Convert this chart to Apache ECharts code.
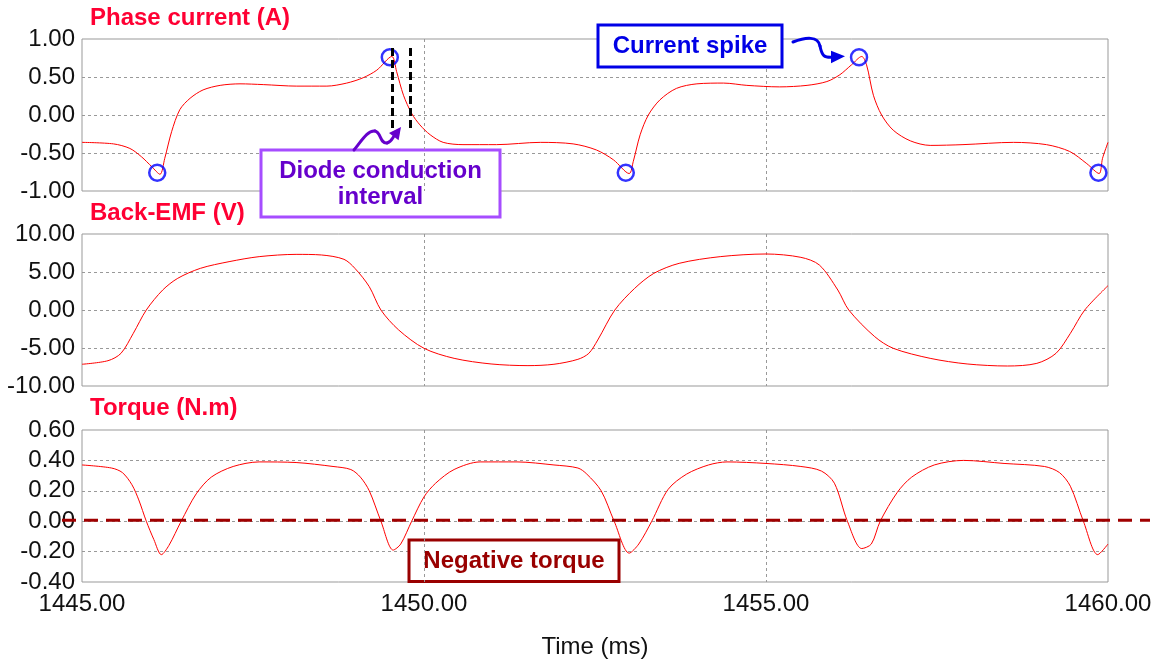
<!DOCTYPE html>
<html>
<head>
<meta charset="utf-8">
<script src="https://cdn.jsdelivr.net/npm/echarts@6/dist/echarts.min.js"></script>
<style>
  html, body { margin: 0; padding: 0; background: #ffffff; }
  #chart { width: 1160px; height: 664px; }
</style>
</head>
<body>
<div id="chart"></div>
<script>
// ---- time axis (ms) ----
const xMin = 1445, xMax = 1460, xStep = 5;

// ---- panel titles and y scales ----
const panelTitles = ['Phase current (A)', 'Back-EMF (V)', 'Torque (N.m)'];
const yMin = [-1, -10, -0.4];
const yMax = [1, 10, 0.6];
const yStep = [0.5, 5, 0.2];

// ---- phase current (A) ----
const timeCurrent = [1445.00, 1445.46, 1445.70, 1445.87, 1446.02, 1446.14, 1446.21, 1446.31, 1446.43, 1446.58,
  1446.77, 1447.02, 1447.31, 1447.65, 1448.14, 1448.58, 1448.87, 1449.11, 1449.31, 1449.53,
  1449.60, 1449.70, 1449.82, 1449.94, 1450.09, 1450.28, 1450.57, 1451.06, 1451.70, 1452.18,
  1452.52, 1452.77, 1453.00, 1453.06, 1453.16, 1453.28, 1453.45, 1453.69, 1453.99, 1454.38,
  1454.72, 1455.20, 1455.60, 1455.89, 1456.08, 1456.25, 1456.40, 1456.47, 1456.57, 1456.69,
  1456.86, 1457.11, 1457.40, 1457.88, 1458.62, 1459.10, 1459.44, 1459.69, 1459.87, 1459.92, 1460.00];
const phaseCurrent = [-0.36, -0.38, -0.44, -0.55, -0.68, -0.78, -0.57, -0.22, 0.07, 0.22,
  0.33, 0.39, 0.41, 0.40, 0.38, 0.38, 0.42, 0.49, 0.59, 0.77,
  0.57, 0.26, 0.02, -0.13, -0.26, -0.36, -0.39, -0.39, -0.36, -0.38,
  -0.46, -0.59, -0.77, -0.61, -0.26, 0.00, 0.20, 0.35, 0.41, 0.42,
  0.39, 0.37, 0.39, 0.44, 0.53, 0.66, 0.77, 0.66, 0.26, 0.00,
  -0.20, -0.34, -0.40, -0.39, -0.36, -0.39, -0.48, -0.64, -0.77, -0.57, -0.36];

// current spikes (circled)
const spikeTime = [1446.10, 1449.50, 1452.95, 1456.36, 1459.86];
const spikeValue = [-0.76, 0.76, -0.76, 0.76, -0.76];

// diode conduction interval limits
const diodeTime = [1449.53, 1449.80];
const diodeSpan = [0.88, -0.20];

// ---- back-EMF (V) ----
const timeEmf = [1445.00, 1445.38, 1445.57, 1445.75, 1445.94, 1446.18, 1446.40, 1446.73, 1447.15, 1447.59,
  1448.13, 1448.50, 1448.83, 1448.99, 1449.20, 1449.37, 1449.63, 1450.00, 1450.44, 1450.98,
  1451.52, 1451.90, 1452.25, 1452.41, 1452.54, 1452.79, 1453.08, 1453.36, 1453.73, 1454.33,
  1455.00, 1455.51, 1455.78, 1456.05, 1456.21, 1456.59, 1456.86, 1457.40, 1457.94, 1458.53,
  1458.96, 1459.24, 1459.45, 1459.66, 1460.00];
const backEmf = [-7.14, -6.67, -5.70, -3.07, 0.00, 2.63, 4.17, 5.48, 6.36, 7.02,
  7.32, 7.24, 6.67, 5.48, 3.07, 0.00, -2.63, -5.04, -6.36, -7.10,
  -7.32, -7.14, -6.49, -5.70, -3.95, 0.00, 2.85, 4.82, 6.14, 7.02,
  7.37, 6.93, 5.92, 2.63, 0.00, -3.51, -5.04, -6.36, -7.10, -7.37,
  -7.02, -5.70, -3.07, 0.00, 3.20];

// ---- torque (N.m) ----
const timeTorque = [1445.00, 1445.43, 1445.59, 1445.73, 1445.83, 1445.94, 1446.05, 1446.16, 1446.27, 1446.45,
  1446.67, 1446.89, 1447.21, 1447.59, 1448.13, 1448.67, 1448.93, 1449.07, 1449.20, 1449.37,
  1449.55, 1449.66, 1449.82, 1450.00, 1450.17, 1450.44, 1450.82, 1451.36, 1451.90, 1452.25,
  1452.38, 1452.59, 1452.78, 1453.00, 1453.14, 1453.33, 1453.57, 1453.84, 1454.16, 1454.43,
  1455.00, 1455.51, 1455.81, 1456.00, 1456.19, 1456.40, 1456.54, 1456.67, 1456.92, 1457.13,
  1457.46, 1457.89, 1458.48, 1459.07, 1459.29, 1459.45, 1459.64, 1459.85, 1460.00];
const torque = [0.37, 0.35, 0.32, 0.24, 0.14, 0.00, -0.12, -0.22, -0.16, 0.00,
  0.18, 0.29, 0.36, 0.39, 0.386, 0.36, 0.34, 0.29, 0.20, 0.00,
  -0.19, -0.15, 0.00, 0.16, 0.25, 0.34, 0.39, 0.39, 0.37, 0.35,
  0.31, 0.20, 0.00, -0.21, -0.15, 0.00, 0.21, 0.31, 0.37, 0.39,
  0.38, 0.36, 0.33, 0.25, 0.00, -0.18, -0.15, 0.00, 0.19, 0.29,
  0.37, 0.40, 0.38, 0.36, 0.32, 0.23, 0.00, -0.22, -0.15];

// reference level for the negative-torque guide
const torqueZero = 0;

// ---- styling ----
const FONT = '"Liberation Sans", Arial, Helvetica, sans-serif';
const TRACE = '#ff0000';
const TITLE_RED = '#ff0033';
const GRID_GRAY = '#999999';
const BLUE = '#0000e6';
const PURPLE_TEXT = '#6600cc';
const PURPLE_EDGE = '#a64dff';
const DARK_RED = '#990000';

const gridTops = [39, 234, 430];
const gridLeft = 82, gridWidth = 1026, gridHeight = 152;

const zip = (xs, ys) => xs.map((x, i) => [x, ys[i]]);

const chart = echarts.init(document.getElementById('chart'), null, { renderer: 'canvas' });

const grids = gridTops.map(top => ({
  left: gridLeft, top: top, width: gridWidth, height: gridHeight,
  show: true, borderColor: GRID_GRAY, borderWidth: 1,
  backgroundColor: 'transparent', containLabel: false, outerBoundsMode: 'none'
}));

const dashed = { color: GRID_GRAY, width: 1, type: [3, 3] };

const xAxes = gridTops.map((_, i) => ({
  type: 'value', gridIndex: i, min: xMin, max: xMax, interval: xStep, z: 1.5,
  axisLine: { show: false }, axisTick: { show: false },
  splitLine: { show: true, showMinLine: false, showMaxLine: false, lineStyle: dashed },
  axisLabel: {
    show: i === 2, margin: 10, color: '#111', fontSize: 24, fontFamily: FONT,
    formatter: v => v.toFixed(2)
  },
  name: i === 2 ? 'Time (ms)' : '', nameLocation: 'middle', nameGap: 53,
  nameTextStyle: { color: '#111', fontSize: 24, fontFamily: FONT }
}));

const yAxes = gridTops.map((_, i) => ({
  type: 'value', gridIndex: i, min: yMin[i], max: yMax[i], interval: yStep[i], z: 0,
  axisLine: { show: false }, axisTick: { show: false },
  splitLine: { show: true, showMinLine: false, showMaxLine: false, lineStyle: dashed },
  axisLabel: {
    margin: 7, color: '#111', fontSize: 24, fontFamily: FONT,
    formatter: v => v.toFixed(2)
  }
}));

const titleTops = [6, 201, 396];
const titles = panelTitles.map((t, i) => ({
  text: t, left: 90, top: titleTops[i], padding: 0,
  textStyle: { color: TITLE_RED, fontSize: 24, fontWeight: 'bold', fontFamily: FONT, lineHeight: 24 }
}));

const traceStyle = { color: TRACE, width: 1 };
const SMOOTH = 0.3;

chart.setOption({
  animation: false,
  backgroundColor: '#ffffff',
  title: titles,
  grid: grids,
  xAxis: xAxes,
  yAxis: yAxes,
  series: [
    {
      type: 'line', xAxisIndex: 0, yAxisIndex: 0, data: zip(timeCurrent, phaseCurrent),
      showSymbol: false, smooth: SMOOTH, lineStyle: traceStyle, itemStyle: { color: TRACE }, z: 2,
      emphasis: { disabled: true },
      markLine: {
        silent: true, symbol: ['none', 'none'], label: { show: false }, animation: false,
        lineStyle: { color: '#000000', width: 3, type: [8, 4] },
        emphasis: { disabled: true },
        data: diodeTime.map(t => [{ coord: [t, diodeSpan[0]] }, { coord: [t, diodeSpan[1]] }])
      }
    },
    {
      type: 'scatter', xAxisIndex: 0, yAxisIndex: 0, data: zip(spikeTime, spikeValue),
      symbol: 'circle', symbolSize: 16, z: 4,
      itemStyle: { color: 'rgba(0,0,0,0)', borderColor: '#0000ff', borderWidth: 2.5 },
      emphasis: { disabled: true }
    },
    {
      type: 'line', xAxisIndex: 1, yAxisIndex: 1, data: zip(timeEmf, backEmf),
      showSymbol: false, smooth: SMOOTH, lineStyle: traceStyle, itemStyle: { color: TRACE }, z: 2,
      emphasis: { disabled: true }
    },
    {
      type: 'line', xAxisIndex: 2, yAxisIndex: 2, data: zip(timeTorque, torque),
      showSymbol: false, smooth: SMOOTH, lineStyle: traceStyle, itemStyle: { color: TRACE }, z: 2,
      emphasis: { disabled: true }
    }
  ]
});

// ---- annotations ----
const toPx = (g, t, v) => chart.convertToPixel({ gridIndex: g }, [t, v]);

const boldText = (text, x, y, color, z) => ({
  type: 'text', z: z, silent: true,
  style: {
    text: text, x: x, y: y, fill: color, font: 'bold 24px ' + FONT,
    align: 'center', verticalAlign: 'middle', textAlign: 'center', textVerticalAlign: 'middle'
  }
});
const box = (x, y, w, h, stroke, z) => ({
  type: 'rect', z: z, silent: true,
  shape: { x: x, y: y, width: w, height: h },
  style: { fill: '#ffffff', stroke: stroke, lineWidth: 3 }
});
const curve = (p0, c1, c2, p1, color, z) => ({
  type: 'bezierCurve', z: z, silent: true,
  shape: { x1: p0[0], y1: p0[1], cpx1: c1[0], cpy1: c1[1], cpx2: c2[0], cpy2: c2[1], x2: p1[0], y2: p1[1] },
  style: { stroke: color, lineWidth: 3, fill: null, lineCap: 'round' }
});
const head = (pts, color, z) => ({
  type: 'polygon', z: z, silent: true,
  shape: { points: pts }, style: { fill: color }
});

// zero-torque guide spans slightly beyond the plot frame
const zL = toPx(2, xMin, torqueZero);
const zR = toPx(2, xMax, torqueZero);

// arrow target: the circled spike at the right of the current panel
const spikePx = toPx(0, spikeTime[3], spikeValue[3]);
const tip = [spikePx[0] - 14, spikePx[1]];

chart.setOption({
  graphic: {
    elements: [
      // negative-torque guide line
      {
        type: 'line', z: 6, silent: true,
        shape: { x1: zL[0] - 20, y1: zL[1] - 1, x2: zR[0] + 42, y2: zR[1] - 1 },
        style: { stroke: '#a00000', lineWidth: 3, lineDash: [14, 8] }
      },
      box(409, 540, 210, 41.5, DARK_RED, 1),
      boldText('Negative torque', 514, 561, DARK_RED, 1.2),

      // diode conduction callout
      box(261, 150, 239, 67, PURPLE_EDGE, 1),
      boldText('Diode conduction', 380.5, 171, PURPLE_TEXT, 1.2),
      boldText('interval', 380.5, 197, PURPLE_TEXT, 1.2),
      curve([354, 150], [362, 140], [368, 130], [375, 131], PURPLE_TEXT, 6),
      curve([375, 131], [381, 132], [380, 144], [387, 143], PURPLE_TEXT, 6),
      curve([387, 143], [391, 142], [392, 139], [394, 136], PURPLE_TEXT, 6),
      head([[401, 127], [389, 133], [398.6, 140.2]], PURPLE_TEXT, 6),

      // current spike callout
      box(598, 25, 184, 42, BLUE, 8),
      boldText('Current spike', 690, 46, BLUE, 9),
      curve([793, 42], [806, 37], [818, 36], [820, 46], BLUE, 8),
      curve([820, 46], [822, 56], [824, 58], [tip[0] - 12, tip[1]], BLUE, 8),
      head([[tip[0] - 14, tip[1] - 6.5], [tip[0], tip[1] - 1], [tip[0] - 14, tip[1] + 6]], BLUE, 8)
    ]
  }
});
</script>
</body>
</html>
